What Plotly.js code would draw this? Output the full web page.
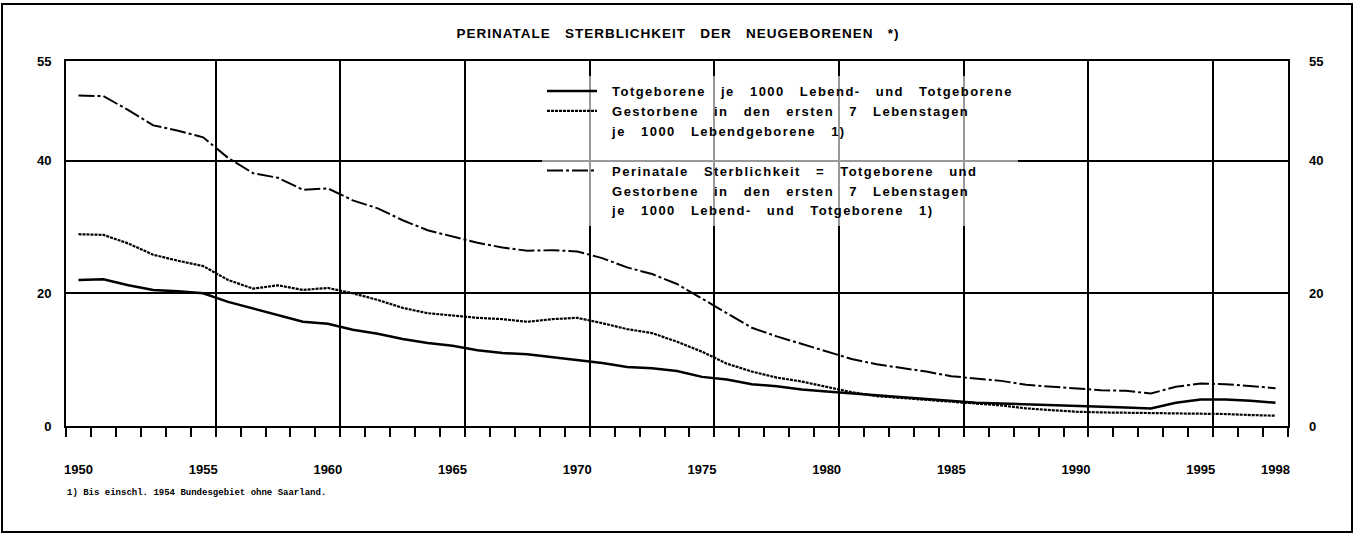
<!DOCTYPE html>
<html><head><meta charset="utf-8">
<script src="https://cdn.plot.ly/plotly-3.0.1.min.js"></script>
<style>
html,body{margin:0;padding:0;background:#fff;}
.legendtext{letter-spacing:1.45px;}
.gtitle{letter-spacing:1px;}
</style></head>
<body><div id="chart" style="width:1356px;height:535px;"></div>
<script>
// ---- data ----
const years = [1950,1951,1952,1953,1954,1955,1956,1957,1958,1959,
               1960,1961,1962,1963,1964,1965,1966,1967,1968,1969,
               1970,1971,1972,1973,1974,1975,1976,1977,1978,1979,
               1980,1981,1982,1983,1984,1985,1986,1987,1988,1989,
               1990,1991,1992,1993,1994,1995,1996,1997,1998];
// Totgeborene je 1000 Lebend- und Totgeborene
const totgeborene = [22.0,22.1,21.2,20.5,20.3,20.0,18.7,17.7,16.6,15.7,
                     15.4,14.5,13.9,13.1,12.5,12.1,11.4,11.0,10.8,10.4,
                     9.9,9.5,8.9,8.7,8.3,7.4,7.0,6.3,6.0,5.5,
                     5.2,4.9,4.6,4.3,4.0,3.7,3.5,3.4,3.3,3.2,
                     3.1,2.9,2.8,2.65,3.5,4.0,4.0,3.8,3.5];
// Gestorbene in den ersten 7 Lebenstagen je 1000 Lebendgeborene
const gestorbene = [28.9,28.8,27.5,25.8,24.9,24.1,22.0,20.7,21.2,20.5,
                    20.8,20.0,19.0,17.8,17.0,16.6,16.3,16.1,15.7,16.1,
                    16.3,15.5,14.6,14.0,12.7,11.2,9.4,8.2,7.3,6.7,
                    5.9,5.1,4.5,4.2,3.9,3.7,3.4,3.1,2.65,2.4,
                    2.15,2.05,2.0,2.0,2.0,1.9,1.8,1.65,1.55];
// Perinatale Sterblichkeit
const perinatal = [49.8,49.7,47.6,45.3,44.5,43.5,40.4,38.1,37.4,35.6,
                   35.8,34.0,32.8,31.0,29.5,28.6,27.6,26.9,26.4,26.5,
                   26.3,25.3,23.9,22.9,21.4,19.2,17.0,14.8,13.5,12.4,
                   11.3,10.1,9.3,8.8,8.2,7.5,7.2,6.8,6.2,5.9,
                   5.6,5.4,5.3,4.9,5.9,6.4,6.3,6.0,5.7];
const yTickValues = [0,20,40,55];
const xLabelYears = [1950,1955,1960,1965,1970,1975,1980,1985,1990,1995,1998];
const titleText = "PERINATALE STERBLICHKEIT DER NEUGEBORENEN *)";
const footnoteText = "1) Bis einschl. 1954 Bundesgebiet ohne Saarland.";
const legTot = ["Totgeborene je 1000 Lebend- und Totgeborene"];
const legGest = ["Gestorbene in den ersten 7 Lebenstagen", "je 1000 Lebendgeborene 1)"];
const legPeri = ["Perinatale Sterblichkeit = Totgeborene und",
                 "Gestorbene in den ersten 7 Lebenstagen",
                 "je 1000 Lebend- und Totgeborene 1)"];

// ---- helpers ----
const wide = s => '\u00a0\u00a0' + s.split(' ').join('\u00a0\u00a0\u00a0');
const BLACK = '#000';
const FONT = 'Liberation Sans, Arial, sans-serif';

const xMin = years[0] - 0.5, xMax = years[years.length-1] + 0.5;
const yearBounds = years.map(y => y - 0.5).concat([xMax]);
const gridX = [];
for (let y = xLabelYears[0] + 5; y < xMax; y += 5) gridX.push(y + 0.5);

// continuation lines / spacer of multi-line legend entries (no visible mark)
function cont(name) {
  return {x: [null], y: [null], mode: 'lines', name: name ? wide(name) : '\u00a0',
          hoverinfo: 'skip', line: {color: 'rgba(0,0,0,0)', width: 1}};
}

const traces = [
  {x: years, y: totgeborene, mode: 'lines', name: wide(legTot[0]),
   line: {color: BLACK, width: 2.5}},
  {x: years, y: gestorbene, mode: 'lines', name: wide(legGest[0]),
   line: {color: BLACK, width: 2.2, dash: '3px,1px'}},
  cont(legGest[1]),
  cont(''),
  {x: years, y: perinatal, mode: 'lines', name: wide(legPeri[0]),
   line: {color: BLACK, width: 2, dash: '16px,3px,3px,3px'}},
  cont(legPeri[1]),
  cont(legPeri[2]),
  // helpers so the overlay axes (grid / right labels) get drawn
  {x: [], y: [], xaxis: 'x2', yaxis: 'y', showlegend: false, hoverinfo: 'skip'},
  {x: [], y: [], xaxis: 'x', yaxis: 'y2', showlegend: false, hoverinfo: 'skip'}
];

const L = 66, R = 1288, T = 61, B = 426, W = 1356, H = 535;
const pw = R - L, ph = B - T;
const px = v => (v - L) / pw;
const py = v => (B - v) / ph;

const tickFont = {family: FONT, size: 13, color: BLACK, weight: 'bold'};

const layout = {
  width: W, height: H, autosize: false,
  margin: {l: L, r: W - R, t: T, b: H - B, pad: 0},
  paper_bgcolor: '#fff', plot_bgcolor: '#fff',
  showlegend: true,
  title: {text: titleText.split(' ').join('\u00a0\u00a0\u00a0'), x: 678 / W, xanchor: 'center',
          y: 1 - 33 / H, yanchor: 'middle',
          font: {family: FONT, size: 13.5, color: BLACK, weight: 'bold'}},
  xaxis: {range: [xMin, xMax], tickmode: 'array', tickvals: xLabelYears,
          ticktext: xLabelYears.map(String), ticks: '', showgrid: false, zeroline: false,
          showline: true, linecolor: BLACK, linewidth: 2, mirror: true,
          tickfont: tickFont, ticklabelstandoff: 30,
          minor: {tickmode: 'array', tickvals: yearBounds, ticks: 'outside', ticklen: 9,
                  tickwidth: 2, tickcolor: BLACK, showgrid: false}},
  xaxis2: {range: [xMin, xMax], overlaying: 'x', anchor: 'y', tickmode: 'array', tickvals: gridX,
           showticklabels: false, ticks: '', showgrid: true, gridcolor: BLACK, gridwidth: 2,
           showline: false, zeroline: false},
  yaxis: {range: [0, 55], tickmode: 'array', tickvals: yTickValues, ticks: '',
          showgrid: true, gridcolor: BLACK, gridwidth: 2, zeroline: false,
          showline: true, linecolor: BLACK, linewidth: 2, mirror: true,
          tickfont: tickFont, ticklabelstandoff: 10},
  yaxis2: {range: [0, 55], overlaying: 'y', side: 'right', anchor: 'x', tickmode: 'array',
           tickvals: yTickValues, ticks: '', showgrid: false, zeroline: false, showline: false,
           tickfont: tickFont, ticklabelstandoff: 20},
  legend: {x: px(542), xanchor: 'left', y: py(76), yanchor: 'top',
           bgcolor: 'rgba(255,255,255,0.6)', borderwidth: 0, itemwidth: 50,
           font: {family: FONT, size: 13, color: BLACK, weight: 'bold'},
           tracegroupgap: 0, itemclick: false, itemdoubleclick: false},
  annotations: [
    {text: footnoteText, xref: 'paper', yref: 'paper', x: px(65), y: py(493),
     xanchor: 'left', yanchor: 'middle', showarrow: false,
     font: {family: 'Liberation Mono, DejaVu Sans Mono, monospace', size: 9, color: BLACK, weight: 'bold'}}
  ],
  shapes: [
    {type: 'rect', xref: 'paper', yref: 'paper', x0: px(2), x1: px(1352), y0: py(532), y1: py(4),
     line: {color: BLACK, width: 2}, fillcolor: 'rgba(0,0,0,0)', layer: 'below'}
  ],
  hovermode: false
};

Plotly.newPlot('chart', traces, layout, {displayModeBar: false, staticPlot: true});
</script>
</body></html>
